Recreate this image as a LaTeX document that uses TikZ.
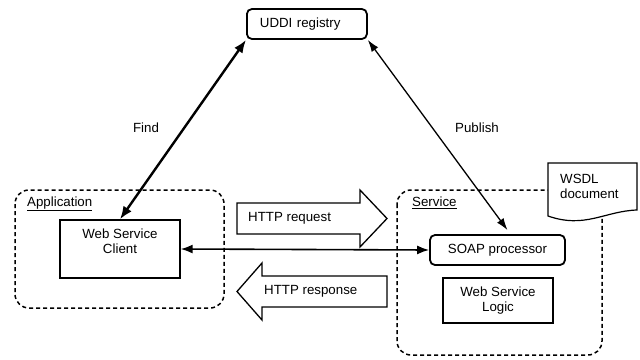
\documentclass[tikz,border=0pt]{standalone}
\usepackage{fontspec}
\setmainfont{Liberation Sans}
\usepackage{tikz}
\usetikzlibrary{arrows.meta}

\tikzset{
  every node/.style={font=\fontsize{13.3}{15.5}\selectfont, inner sep=0pt},
  plainbox/.style={draw, line width=1.4pt},
  roundbox/.style={draw, line width=1.8pt, rounded corners=5pt},
  zone/.style={draw, line width=1.5pt, dash pattern=on 4pt off 3pt, rounded corners=14pt},
  fatarrow/.style={draw, line width=1.3pt, fill=white, line join=miter},
  findline/.style={line width=2.4pt, {Latex[length=13pt,width=10pt]}-{Latex[length=13pt,width=10pt]}},
  publine/.style={line width=1.3pt, {Latex[length=12pt,width=8pt]}-{Latex[length=12pt,width=8pt]}},
  msgline/.style={line width=1.6pt, {Latex[length=12pt,width=9pt]}-{Latex[length=12pt,width=9pt]}}
}

\begin{document}
\begin{tikzpicture}[x=1pt,y=-1pt]
\useasboundingbox (0,0) rectangle (640,359);

% application and service zones
\draw[zone] (15,190) rectangle (224,308);
\draw[zone] (397,190) rectangle (602,355);
\node[anchor=west] (applbl) at (27,204) {\underline{Application}};
\node[anchor=west] (srvlbl) at (412,203) {\underline{Service}};

% registry, client, service parts
\node[roundbox, anchor=west, text width=94pt, inner xsep=13pt, minimum height=30pt] (uddi) at (246,24) {UDDI registry};
\node[plainbox, minimum width=120pt, minimum height=58pt,
      label={[yshift=8pt, align=center]center:Web Service\\Client}] (client) at (120,249) {};
\node[roundbox, minimum width=135pt, minimum height=30pt] (soap) at (497.5,250) {SOAP processor};
\node[plainbox, minimum width=110pt, minimum height=45pt, align=center] (logic) at (498,300.5) {Web Service\\Logic};

% WSDL document
\draw[fill=white, line width=1.2pt] (548,163) -- (637,163) -- (637,210)
      .. controls (605,211) and (585,229) .. (548,216) -- cycle;
\node[anchor=north west, align=left] (wsdl) at (560,174) {WSDL\\document};

% HTTP request / response
\draw[fatarrow] (237,203) -- (360,203) -- (360,190) -- (387,218.5) -- (360,247) -- (360,234) -- (237,234) -- cycle;
\node[anchor=west] (reqlbl) at (248,218.5) {HTTP request};
\draw[fatarrow] (387,276) -- (262,276) -- (262,263) -- (237,291.5) -- (262,320) -- (262,307) -- (387,307) -- cycle;
\node[anchor=west] (reslbl) at (264,291.5) {HTTP response};

% find / publish / messages
\draw[findline] (client.north) -- (uddi.south west);
\draw[publine] (uddi.south east) -- ([xshift=10pt,yshift=4pt]soap.north);
\draw[msgline] (client.east) -- (soap.west);
\node (findlbl) at (146,128) {Find};
\node (publbl) at (477,128) {Publish};
\end{tikzpicture}
\end{document}
